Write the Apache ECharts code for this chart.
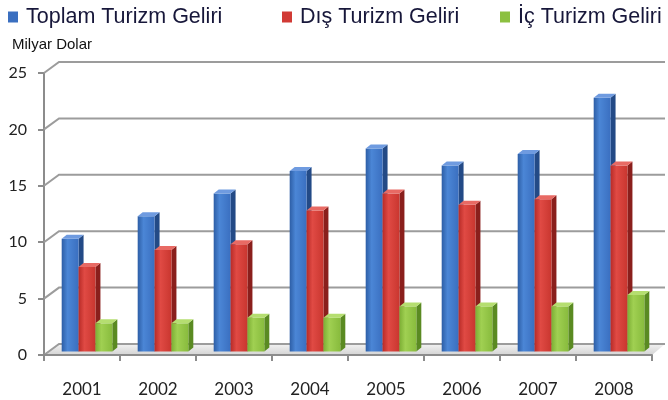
<!DOCTYPE html>
<html>
<head>
<meta charset="utf-8">
<script src="https://cdn.jsdelivr.net/npm/echarts@6/dist/echarts.min.js"></script>
<style>html,body{margin:0;padding:0;background:#fff;}#c{width:668px;height:400px;}</style>
</head>
<body>
<div id="c"></div>
<script>
const years = ['2001','2002','2003','2004','2005','2006','2007','2008'];
const toplam = [10, 12, 14, 16, 18, 16.5, 17.5, 22.5];
const dis = [7.5, 9, 9.5, 12.5, 14, 13, 13.5, 16.5];
const ic = [2.5, 2.5, 3, 3, 4, 4, 4, 5];
const yTicks = [0, 5, 10, 15, 20, 25];
const seriesNames = ['Toplam Turizm Geliri', 'Dış Turizm Geliri', 'İç Turizm Geliri'];

const palettes = [
  {front: ['#2d5ea6', '#4b86d6', '#3a6fc0'], side: '#234a86', top: '#6f9be0', legend: '#3a6fc0'},
  {front: ['#b82b27', '#e04a44', '#c9362f'], side: '#8a1f1c', top: '#e86a64', legend: '#d13a35'},
  {front: ['#7cae34', '#a0d052', '#88bb3d'], side: '#5a8a22', top: '#b5de70', legend: '#8cc040'}
];
const DX = 15, DY = 11;       // back wall depth
const MX = 5, MY = 3.5;       // bars sit mid-depth
const SX = 5, SY = 4;         // bar depth

function barRender(si) {
  return function (params, api) {
    const idx = api.value(0), v = api.value(1);
    const c = api.coord([idx, v]);
    const b = api.coord([idx, 0]);
    const cw = api.size([1, 0])[0];
    const bw = cw * 0.222;
    const x0 = c[0] - 1.5 * bw + si * bw + MX;
    const x1 = x0 + bw;
    const yT = c[1] - MY, yB = b[1] - MY;
    const p = palettes[si];
    return {
      type: 'group',
      children: [
        {type: 'polygon', shape: {points: [[x1, yT], [x1 + SX, yT - SY], [x1 + SX, yB - SY], [x1, yB]]},
         style: {fill: p.side}},
        {type: 'rect', shape: {x: x0, y: yT, width: bw, height: yB - yT},
         style: {fill: new echarts.graphic.LinearGradient(0, 0, 1, 0, [
           {offset: 0, color: p.front[0]}, {offset: 0.35, color: p.front[1]}, {offset: 1, color: p.front[2]}])}},
        {type: 'polygon', shape: {points: [[x0, yT], [x0 + SX, yT - SY], [x1 + SX, yT - SY], [x1, yT]]},
         style: {fill: p.top}}
      ]
    };
  };
}

function gridRender(params, api) {
  const v = api.value(0);
  const cs = params.coordSys;
  const y = api.coord([0, v])[1];
  const x = cs.x, w = cs.width;
  const children = [];
  if (v === 0) {
    children.push({type: 'polygon', shape: {points: [[x, y], [x + w, y], [x + w + DX - 2, y - DY], [x + DX, y - DY]]},
      style: {fill: new echarts.graphic.LinearGradient(0, 1, 0, 0, [
        {offset: 0, color: '#d4d4d4'}, {offset: 1, color: '#f2f2f2'}])}});
  }
  children.push({type: 'polyline', shape: {points: [[x, y], [x + DX, y - DY], [x + w + DX - 2, y - DY]]},
    style: {stroke: '#9c9c9c', lineWidth: 2, fill: null}});
  return {type: 'group', children: children};
}

const chart = echarts.init(document.getElementById('c'), null, {renderer: 'canvas'});
const legendText = {fontSize: 21.5, fontFamily: 'Liberation Sans', color: '#17173a', padding: [0, 0, 0, 3]};
const mkLegend = (name, left) => ({
  data: [name], left: left, top: 6, icon: 'rect', itemWidth: 10, itemHeight: 11,
  itemGap: 5, padding: 0, textStyle: legendText, selectedMode: false
});

chart.setOption({
  animation: false,
  backgroundColor: '#ffffff',
  legend: [mkLegend(seriesNames[0], 8), mkLegend(seriesNames[1], 282), mkLegend(seriesNames[2], 500)],
  graphic: [{type: 'text', left: 12, top: 37,
    style: {text: 'Milyar Dolar', fontSize: 15, fontFamily: 'Liberation Sans', fill: '#111'}}],
  grid: {left: 44, right: 16, top: 73, bottom: 45, containLabel: false},
  xAxis: {
    type: 'category', data: years,
    axisLine: {lineStyle: {color: '#8c8c8c', width: 2}},
    axisTick: {show: true, length: 6, lineStyle: {color: '#8c8c8c', width: 2}},
    axisLabel: {margin: 26, fontSize: 17, fontFamily: 'Lato', color: '#222'},
    splitLine: {show: false}, z: 5
  },
  yAxis: {
    type: 'value', min: 0, max: 25, interval: 5,
    axisLine: {show: true, lineStyle: {color: '#8c8c8c', width: 2}},
    axisTick: {show: true, length: 6, lineStyle: {color: '#8c8c8c', width: 2}},
    axisLabel: {margin: 17, fontSize: 16, fontFamily: 'Lato', color: '#222', padding: [6, 0, 0, 0]},
    splitLine: {show: false}
  },
  series: [
    {type: 'custom', name: '_grid', renderItem: gridRender, data: yTicks.map(v => [v]),
     encode: {y: 0}, z: 1, silent: true},
    {type: 'custom', name: seriesNames[0], renderItem: barRender(0), itemStyle: {color: palettes[0].legend},
     data: toplam.map((v, i) => [i, v]), encode: {x: 0, y: 1}, z: 2},
    {type: 'custom', name: seriesNames[1], renderItem: barRender(1), itemStyle: {color: palettes[1].legend},
     data: dis.map((v, i) => [i, v]), encode: {x: 0, y: 1}, z: 3},
    {type: 'custom', name: seriesNames[2], renderItem: barRender(2), itemStyle: {color: palettes[2].legend},
     data: ic.map((v, i) => [i, v]), encode: {x: 0, y: 1}, z: 4}
  ]
});
</script>
</body>
</html>
